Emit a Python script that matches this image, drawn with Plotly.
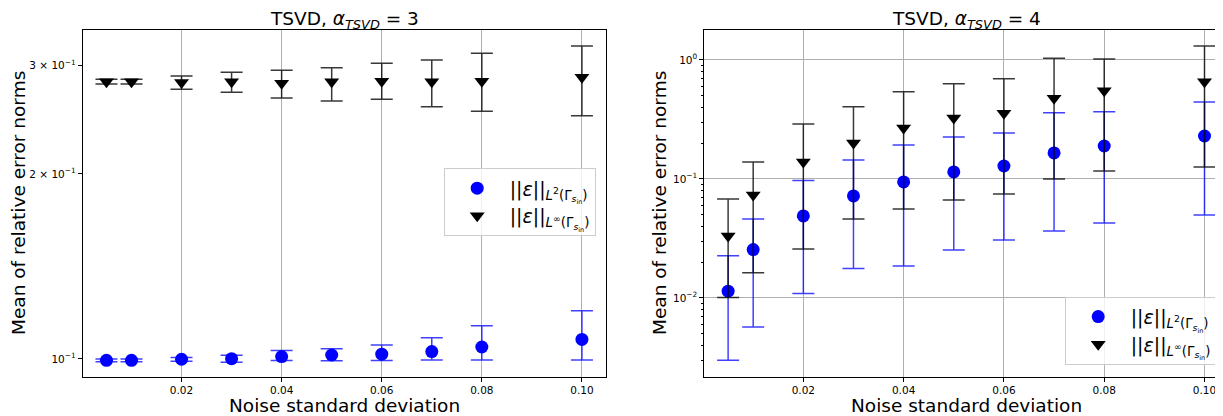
import numpy as np
import plotly.graph_objects as go

# ---------------- data ----------------
noise_std = [0.005, 0.01, 0.02, 0.03, 0.04, 0.05, 0.06, 0.07, 0.08, 0.10]

# alpha_TSVD = 3
l2_mean_a3 = [0.0995, 0.0995, 0.0999, 0.1001, 0.1009, 0.1015, 0.1018, 0.1028, 0.1046, 0.1076]
l2_hi_a3 = [0.1000, 0.1000, 0.1006, 0.1014, 0.1032, 0.1039, 0.1054, 0.1083, 0.1133, 0.1198]
l2_lo_a3 = [0.0990, 0.0990, 0.0992, 0.0988, 0.0994, 0.0993, 0.0994, 0.0996, 0.0996, 0.0996]
linf_mean_a3 = [0.2826, 0.2826, 0.2817, 0.2826, 0.2809, 0.2825, 0.2830, 0.2825, 0.2830, 0.2872]
linf_hi_a3 = [0.2851, 0.2851, 0.2886, 0.2926, 0.2948, 0.2977, 0.3027, 0.3065, 0.3143, 0.3229]
linf_lo_a3 = [0.2802, 0.2802, 0.2747, 0.2716, 0.2659, 0.2629, 0.2646, 0.2573, 0.2529, 0.2487]

# alpha_TSVD = 4
l2_mean_a4 = [0.0114, 0.0255, 0.0489, 0.0720, 0.0944, 0.1146, 0.1286, 0.1654, 0.1893, 0.2297]
l2_hi_a4 = [0.0226, 0.0461, 0.0970, 0.1445, 0.1930, 0.2254, 0.2436, 0.3610, 0.3680, 0.4440]
l2_lo_a4 = [0.0030, 0.0057, 0.0109, 0.0177, 0.0186, 0.0253, 0.0307, 0.0366, 0.0427, 0.0498]
linf_mean_a4 = [0.0332, 0.0734, 0.139, 0.201, 0.268, 0.326, 0.356, 0.477, 0.552, 0.657]
linf_hi_a4 = [0.0679, 0.139, 0.290, 0.405, 0.542, 0.632, 0.697, 1.033, 1.020, 1.310]
linf_lo_a4 = [0.0101, 0.0163, 0.0258, 0.0461, 0.0560, 0.0666, 0.0748, 0.100, 0.1167, 0.126]

x_tickvals = [0.02, 0.04, 0.06, 0.08, 0.10]
x_ticktext = ["0.02", "0.04", "0.06", "0.08", "0.10"]
y_tickvals_a3 = [0.1, 0.2, 0.3]
y_ticktext_a3 = ["10<sup>−1</sup>", "2 × 10<sup>−1</sup>", "3 × 10<sup>−1</sup>"]
y_gridvals_a3 = [0.1]
y_tickvals_a4 = [0.01, 0.1, 1.0]
y_ticktext_a4 = ["10<sup>−2</sup>", "10<sup>−1</sup>", "10<sup>0</sup>"]

titles = ["TSVD, <i>α</i><sub><i>TSVD</i></sub> = 3", "TSVD, <i>α</i><sub><i>TSVD</i></sub> = 4"]
xlabel = "Noise standard deviation"
ylabel = "Mean of relative error norms"
name_l2 = "||<i>ε</i>||<sub><i>L</i><sup>2</sup>(Γ<sub><i>s</i><sub>in</sub></sub>)</sub>"
name_linf = "||<i>ε</i>||<sub><i>L</i><sup>∞</sup>(Γ<sub><i>s</i><sub>in</sub></sub>)</sub>"

FONT = "DejaVu Sans"
OFF = 8  # page body margin of the html page
W, H = 1223 - OFF, 416 - OFF

def px_x(p):
    return (p - OFF) / W

def px_y(p):
    return (H - (p - OFF)) / H

fig = go.Figure()

def add_series(xa, ya, mean, hi, lo, name, color, ecolor, symbol, size, legend):
    mean = np.array(mean)
    plus = np.array(hi) - mean
    minus = mean - np.array(lo)
    fig.add_trace(go.Scatter(
        x=noise_std, y=mean, mode="markers", name=name,
        xaxis=xa, yaxis=ya, legend=legend,
        marker=dict(color=color, size=size, symbol=symbol, line=dict(width=0)),
        error_y=dict(type="data", symmetric=False, array=plus, arrayminus=minus,
                     color=ecolor, thickness=1.5, width=11),
    ))

add_series("x", "y", l2_mean_a3, l2_hi_a3, l2_lo_a3, name_l2, "#0000ff", "rgba(0,0,255,0.75)", "circle", 13, "legend")
add_series("x", "y", linf_mean_a3, linf_hi_a3, linf_lo_a3, name_linf, "#000000", "rgba(0,0,0,0.78)", "triangle-down", 13, "legend")
add_series("x2", "y2", l2_mean_a4, l2_hi_a4, l2_lo_a4, name_l2, "#0000ff", "rgba(0,0,255,0.75)", "circle", 13, "legend2")
add_series("x2", "y2", linf_mean_a4, linf_hi_a4, linf_lo_a4, name_linf, "#000000", "rgba(0,0,0,0.78)", "triangle-down", 13, "legend2")

ydom = [px_y(376.5), px_y(30)]
axis_common = dict(showline=True, mirror=True, linecolor="black", linewidth=1,
                   ticks="outside", ticklen=4, tickcolor="black", zeroline=False,
                   tickfont=dict(family=FONT, size=10.5, color="black"))

legend_common = dict(xanchor="right", yanchor="top",
                     bgcolor="rgba(255,255,255,0.8)", bordercolor="#cccccc", borderwidth=1,
                     font=dict(family=FONT, size=19, color="black"), tracegroupgap=0,
                     itemwidth=55)

fig.update_layout(
    width=W, height=H, margin=dict(l=0, r=0, t=0, b=0),
    paper_bgcolor="white", plot_bgcolor="white",
    font=dict(family=FONT, color="black"),
    xaxis=dict(domain=[px_x(82.7), px_x(605.7)], range=[0.00025, 0.10475], anchor="y",
               tickmode="array", tickvals=x_tickvals, ticktext=x_ticktext,
               showgrid=True, gridcolor="#b0b0b0", gridwidth=1.2, **axis_common),
    yaxis=dict(domain=ydom, type="log", range=[-1.0285, -0.4648], anchor="x",
               tickmode="array", tickvals=y_tickvals_a3, ticktext=y_ticktext_a3,
               showgrid=False, **axis_common),
    yaxis3=dict(domain=ydom, type="log", range=[-1.0285, -0.4648], anchor="x", overlaying="y",
                tickmode="array", tickvals=y_gridvals_a3, showticklabels=False, ticks="",
                showgrid=True, gridcolor="#b0b0b0", gridwidth=1.2, zeroline=False, showline=False),
    xaxis2=dict(domain=[px_x(704.3), 1.0], range=[0.00025, 0.10369], anchor="y2",
                tickmode="array", tickvals=x_tickvals, ticktext=x_ticktext,
                showgrid=True, gridcolor="#b0b0b0", gridwidth=1.2, **axis_common),
    yaxis2=dict(domain=ydom, type="log", range=[-2.66, 0.252], anchor="x2",
                tickmode="array", tickvals=y_tickvals_a4, ticktext=y_ticktext_a4,
                showgrid=True, gridcolor="#b0b0b0", gridwidth=1.2,
                minor=dict(ticks="outside", ticklen=2, tickcolor="black", dtick="D1", showgrid=False),
                **axis_common),
    legend=dict(x=px_x(595.7), y=px_y(168.3), **legend_common),
    legend2=dict(x=px_x(1216.7), y=px_y(296.7), **legend_common),
)

# titles and axis labels
ann = []
for cx, t in zip([344.2, 966.0], titles):
    ann.append(dict(text=t, x=px_x(cx), y=px_y(20), xref="paper", yref="paper",
                    xanchor="center", yanchor="middle", showarrow=False,
                    font=dict(family=FONT, size=18.5, color="black")))
for cx in [344.2, 966.0]:
    ann.append(dict(text=xlabel, x=px_x(cx), y=px_y(405), xref="paper", yref="paper",
                    xanchor="center", yanchor="middle", showarrow=False,
                    font=dict(family=FONT, size=18.5, color="black")))
for cx in [18, 659]:
    ann.append(dict(text=ylabel, x=px_x(cx), y=px_y(203), xref="paper", yref="paper",
                    xanchor="center", yanchor="middle", showarrow=False, textangle=-90,
                    font=dict(family=FONT, size=18.5, color="black")))
fig.update_layout(annotations=ann)

fig.write_html("out.html")
